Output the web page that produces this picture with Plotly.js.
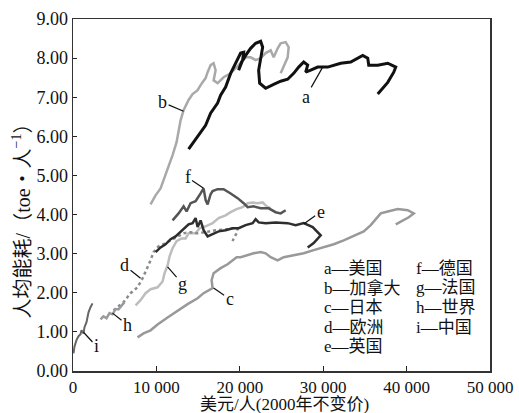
<!DOCTYPE html>
<html>
<head>
<meta charset="utf-8">
<script src="https://cdn.plot.ly/plotly-3.0.1.min.js"></script>
<style>html,body{margin:0;padding:0;background:#fff;}#chart{width:519px;height:413px;}</style>
</head>
<body>
<div id="chart"></div>
<script>
// Series: x = 美元/人 (2000年不变价), y = 人均能耗 toe/人
const aX = [13860,14940,15900,16500,17340,17700,18300,18900,19500,20100,20460,20340,19860,20220,20700,21300,21900,22500,22740,22500,22260,22380,23100,24060,24900,25740,26460,27060,27660,28140,27900,28500,29340,30540,32100,33300,34740,35340,35460,36540,37740,38700,38460,37740,36540];
const aY = [5.67,5.98,6.28,6.59,6.85,7.05,7.26,7.61,7.87,8.13,8.15,7.95,7.69,7.90,8.07,8.25,8.38,8.43,8.28,8.02,7.69,7.36,7.23,7.33,7.41,7.46,7.61,7.77,7.90,7.82,7.64,7.69,7.77,7.77,7.87,7.90,8.07,8.00,7.82,7.82,7.87,7.77,7.64,7.38,7.08];

const bX = [9300,9900,10500,10860,11340,11700,11940,12420,12660,12900,13260,13860,14340,14940,15300,15900,16140,16500,16860,17100,16860,17340,18060,18900,19860,20700,21300,21900,22500,23100,23700,24060,24540,24900,25500,25860,25740,25260,24900];
const bY = [4.26,4.49,4.67,4.88,5.13,5.39,5.52,5.85,6.16,6.41,6.67,6.93,7.08,7.18,7.31,7.49,7.64,7.82,7.87,7.69,7.43,7.36,7.51,7.61,7.82,8.02,8.02,7.95,8.00,8.13,8.20,8.02,8.25,8.38,8.41,8.28,8.02,7.77,7.61];

const cX = [7740,8460,9300,10140,11340,12540,13740,14940,15660,16740,16620,16860,17700,18540,19140,19620,20100,20940,21660,22500,23100,23700,24540,25260,26460,27660,28860,30060,31260,32460,33660,34860,35700,36300,36900,37740,38940,40140,40860,40260,39300,38700];
const cY = [0.86,0.96,1.04,1.19,1.37,1.55,1.71,1.86,1.99,2.12,2.32,2.50,2.63,2.73,2.83,2.91,2.91,2.96,3.01,3.04,3.01,2.91,2.83,2.91,2.96,3.01,3.09,3.16,3.24,3.34,3.45,3.57,3.73,3.88,4.03,4.08,4.14,4.11,4.03,3.93,3.83,3.75];

const dX = [4860,5460,6060,6900,7740,8340,8940,9300,9660,10260,10860,11700,12660,13260,14100,14940,15900,17100,18300,19140,19740,19620,19260,19140];
const dY = [1.55,1.66,1.76,1.99,2.14,2.37,2.65,2.83,3.04,3.19,3.24,3.34,3.47,3.52,3.55,3.52,3.55,3.60,3.62,3.65,3.65,3.52,3.39,3.32];

const eX = [9900,10500,11100,11700,12300,12900,13380,13860,14340,14700,14940,15300,15660,16140,16740,17460,18300,19140,19860,20700,21540,21900,22260,23100,24300,25740,26700,27660,28740,29700,28860,28140];
const eY = [3.04,3.16,3.24,3.37,3.44,3.55,3.65,3.75,3.78,3.91,3.68,3.85,3.60,3.44,3.50,3.57,3.60,3.65,3.65,3.73,3.78,3.88,3.80,3.78,3.80,3.78,3.73,3.78,3.68,3.47,3.27,3.16];

const fX = [11940,12660,13260,13620,14100,14700,15300,15660,15900,16140,16500,16740,17340,18060,18900,19740,20460,20940,21660,22500,23460,24300,24900,25500];
const fY = [3.85,4.03,4.21,4.08,4.29,4.34,4.54,4.67,4.37,4.26,4.52,4.60,4.65,4.65,4.54,4.42,4.29,4.19,4.21,4.16,4.16,4.06,4.03,4.11];

const gX = [7500,8100,8700,9300,10140,10740,10980,11340,11580,11940,12420,13020,13500,13860,14700,15180,15900,16740,17460,18300,18900,19620,20340,20940,21540,22140,22740,23220,23700];
const gY = [1.68,1.81,1.99,2.09,2.14,2.29,2.50,2.70,2.93,3.14,3.32,3.39,3.39,3.52,3.52,3.65,3.70,3.78,3.91,3.98,4.06,4.14,4.19,4.29,4.31,4.29,4.31,4.21,4.16];

const hX = [3300,3660,4020,4380,4740,5100,5460,5820,6180];
const hY = [1.32,1.40,1.35,1.48,1.45,1.58,1.58,1.68,1.76];

const iX = [60,180,420,660,900,1020,1260,1380,1620,1740,1860,2100,2340];
const iY = [0.45,0.63,0.79,0.89,0.94,1.04,0.96,1.12,1.25,1.40,1.50,1.63,1.73];

const xTickVals = [0,10000,20000,30000,40000,50000];
const xTickText = ["0","10 000","20 000","30 000","40 000","50 000"];
const yTickVals = [0,1,2,3,4,5,6,7,8,9];

const legendCol1 = ["a—美国","b—加拿大","c—日本","d—欧洲","e—英国"];
const legendCol2 = ["f—德国","g—法国","h—世界","i—中国"];

const xTitle = '美元/人(2000年不变价)';
const yTitle = '人均能耗/（toe・人<sup>−1</sup>）';

const serif = "Liberation Serif, 'Times New Roman', 'Noto Sans CJK SC', serif";

function tr(x, y, color, width, dash) {
  return {x: x, y: y, type: 'scatter', mode: 'lines', hoverinfo: 'skip',
          line: {color: color, width: width, dash: dash || 'solid', shape: 'linear'}};
}

const data = [
  tr(bX, bY, '#a9a9a9', 2.5),
  tr(cX, cY, '#999999', 2.5),
  tr(gX, gY, '#bdbdbd', 2.5),
  tr(dX, dY, '#8a8a8a', 2.5, 'dot'),
  tr(hX, hY, '#9a9a9a', 2.5),
  tr(iX, iY, '#666666', 2),
  tr(fX, fY, '#555555', 2.5),
  tr(eX, eY, '#2e2e2e', 2.5),
  tr(aX, aY, '#111111', 3)
];

function lead(letter, xi, yi, ax, ay) {
  return {x: xi, y: yi, xref: 'x', yref: 'y', text: letter, showarrow: true,
          arrowhead: 0, arrowwidth: 1.2, arrowcolor: '#111', ax: ax, ay: ay,
          font: {family: serif, size: 18, color: '#111'}, standoff: 0};
}

const annotations = [
  lead('a', 29940, 7.77, -17, 30),
  lead('b', 13260, 6.64, -21, -9),
  lead('c', 16860, 2.12, 16, 11),
  lead('d', 8100, 2.37, -16, -13),
  lead('e', 27660, 3.76, 17, -12),
  lead('f', 15660, 4.67, -16, -11),
  lead('g', 11340, 2.66, 15, 17),
  lead('h', 4740, 1.48, 15, 12),
  lead('i', 1260, 0.99, 13, 14)
];

const rowY = [0.292, 0.236, 0.180, 0.125, 0.070];
legendCol1.forEach((t, k) => annotations.push({
  xref: 'paper', yref: 'paper', x: 0.598, y: rowY[k], xanchor: 'left', yanchor: 'middle',
  text: t, showarrow: false, font: {family: serif, size: 17, color: '#111'}
}));
legendCol2.forEach((t, k) => annotations.push({
  xref: 'paper', yref: 'paper', x: 0.818, y: rowY[k], xanchor: 'left', yanchor: 'middle',
  text: t, showarrow: false, font: {family: serif, size: 17, color: '#111'}
}));

// axis titles
annotations.push({
  xref: 'paper', yref: 'paper', x: 0.508, y: -0.096, xanchor: 'center', yanchor: 'middle',
  text: xTitle, showarrow: false, font: {family: serif, size: 17, color: '#111'}
});
annotations.push({
  xref: 'paper', yref: 'paper', x: -0.124, y: 0.44, xanchor: 'center', yanchor: 'middle',
  text: yTitle, textangle: -90, showarrow: false, font: {family: serif, size: 20, color: '#111'}
});

const layout = {
  width: 519, height: 413,
  margin: {l: 72.5, r: 29, t: 19, b: 42.3},
  paper_bgcolor: '#fff', plot_bgcolor: '#fff',
  showlegend: false, hovermode: false,
  font: {family: serif, size: 18, color: '#111'},
  xaxis: {
    range: [0, 50000], tickvals: xTickVals, ticktext: xTickText,
    ticks: 'inside', ticklen: 5, tickwidth: 1.2, tickcolor: '#222',
    showgrid: false, zeroline: false, showline: true, mirror: true,
    linecolor: '#333', linewidth: 1.5,
    tickfont: {family: serif, size: 17, color: '#111'},
    automargin: false
  },
  yaxis: {
    range: [0, 9], tickvals: yTickVals, tickformat: '.2f',
    ticks: 'inside', ticklen: 4, tickwidth: 1.2, tickcolor: '#222',
    showgrid: false, zeroline: false, showline: true, mirror: true,
    linecolor: '#333', linewidth: 1.5,
    tickfont: {family: serif, size: 18, color: '#111'},
    automargin: false
  },
  annotations: annotations
};

Plotly.newPlot('chart', data, layout, {displayModeBar: false, staticPlot: true});
</script>
</body>
</html>
